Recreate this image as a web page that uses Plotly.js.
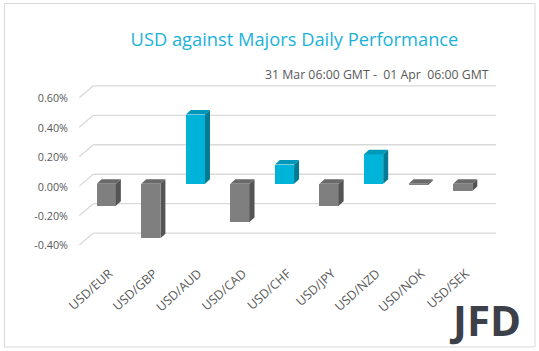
<!DOCTYPE html>
<html>
<head>
<meta charset="utf-8">
<script src="https://cdn.plot.ly/plotly-3.0.1.min.js"></script>
<style>html,body{margin:0;padding:0;background:#fff;}#chart{width:539px;height:351px;}</style>
</head>
<body>
<div id="chart"></div>
<script>
// ---- data ----
const categories = ['USD/EUR','USD/GBP','USD/AUD','USD/CAD','USD/CHF','USD/JPY','USD/NZD','USD/NOK','USD/SEK'];
const values = [-0.15, -0.37, 0.47, -0.26, 0.13, -0.15, 0.20, -0.01, -0.05];
const yTickVals = [-0.4, -0.2, 0, 0.2, 0.4, 0.6];
const yTickText = ['-0.40%', '-0.20%', '0.00%', '0.20%', '0.40%', '0.60%'];
const titleText = 'USD against Majors Daily Performance';
const subtitleText = '31 Mar 06:00 GMT -\u00a0\u00a001 Apr\u00a0\u00a006:00 GMT';

// ---- styling / geometry ----
const W = 539, H = 351;
const M = {l: 84, r: 54, t: 88, b: 101};
const PW = W - M.l - M.r, PH = H - M.t - M.b;
const yRange = [-0.45, 0.65];
const xRange = [-0.5, 8.5];
const barW = 0.43;
const depthPx = {x: 5, y: 4.5};
const colPos = {front: '#00b4d9', top: '#0097b8', side: '#007b93'};
const colNeg = {front: '#7f7f7f', top: '#6a6a6a', side: '#545454'};
const gridCol = '#d9d9d9';
const textCol = '#595959';
const FONT = 'Open Sans, sans-serif';

const pxPerX = PW / (xRange[1] - xRange[0]);
const pxPerY = PH / (yRange[1] - yRange[0]);
const dx = depthPx.x / pxPerX, dy = depthPx.y / pxPerY;

const xIdx = categories.map((c, i) => i);

// face polygons built from values
function faces(sign) {
  const top = {x: [], y: []}, side = {x: [], y: []};
  values.forEach((v, i) => {
    if ((v >= 0) !== (sign > 0)) return;
    const hi = Math.max(v, 0), lo = Math.min(v, 0);
    const L = i - barW / 2, R = i + barW / 2;
    top.x.push(L, L + dx, R + dx, R, L, null);
    top.y.push(hi, hi + dy, hi + dy, hi, hi, null);
    side.x.push(R, R + dx, R + dx, R, R, null);
    side.y.push(hi, hi + dy, lo + dy, lo, hi, null);
  });
  return {top, side};
}
const pos = faces(1), neg = faces(-1);
function faceTrace(f, color) {
  return {type: 'scatter', mode: 'lines', x: f.x, y: f.y, fill: 'toself',
    fillcolor: color, line: {width: 0, color: color}, hoverinfo: 'skip', showlegend: false};
}

const traces = [
  faceTrace(neg.side, colNeg.side), faceTrace(neg.top, colNeg.top),
  faceTrace(pos.side, colPos.side), faceTrace(pos.top, colPos.top),
  {type: 'bar', x: xIdx, y: values, width: barW,
   marker: {color: values.map(v => v >= 0 ? colPos.front : colNeg.front), line: {width: 0}},
   showlegend: false, hoverinfo: 'x+y'}
];

// back-wall gridlines and connecting diagonals (paper coords from tick values)
const toPaperX = px => (px - M.l) / PW;
const toPaperY = v => (v - yRange[0]) / (yRange[1] - yRange[0]);
const backShift = 9.5 / PH, frontShift = -2.4 / PH;
const shapes = [];
yTickVals.forEach(v => {
  const yb = toPaperY(v) + backShift;
  const yf = toPaperY(v) + frontShift;
  shapes.push({type: 'line', xref: 'paper', yref: 'paper', x0: toPaperX(93.3), x1: toPaperX(496), y0: yb, y1: yb,
    line: {color: gridCol, width: 1.3}, layer: 'below'});
  shapes.push({type: 'line', xref: 'paper', yref: 'paper', x0: toPaperX(79.3), x1: toPaperX(93.3), y0: yf, y1: yb,
    line: {color: gridCol, width: 1.3}, layer: 'below'});
});
// outer frame
shapes.push({type: 'rect', xref: 'paper', yref: 'paper',
  x0: toPaperX(4.5), x1: toPaperX(535), y0: (H - M.b - 347) / PH, y1: (H - M.b - 3.5) / PH,
  line: {color: gridCol, width: 1}, layer: 'below'});

const layout = {
  width: W, height: H,
  margin: M,
  paper_bgcolor: '#ffffff', plot_bgcolor: 'rgba(0,0,0,0)',
  font: {family: FONT, color: textCol, size: 10.5},
  title: {text: titleText, font: {family: FONT, size: 18.3, color: '#1ab2d8'},
    x: 294.5 / W, xanchor: 'center', y: 1 - 39.5 / H, yanchor: 'middle'},
  xaxis: {range: xRange, tickvals: xIdx, ticktext: categories, tickangle: -42,
    showgrid: false, zeroline: false, showline: false, ticks: '',
    ticklabelstandoff: 13, ticklabelshift: 3,
    tickfont: {family: FONT, size: 12.5, color: textCol}, fixedrange: true},
  yaxis: {range: yRange, tickvals: yTickVals, ticktext: yTickText,
    showgrid: false, zeroline: false, showline: false, ticks: '',
    ticklabelstandoff: 15, ticklabelshift: 3,
    tickfont: {family: FONT, size: 10.8, color: textCol}, fixedrange: true},
  shapes: shapes,
  annotations: [
    {text: subtitleText, xref: 'paper', yref: 'paper', x: toPaperX(491), y: (H - M.b - 74.5) / PH,
     xanchor: 'right', yanchor: 'middle', showarrow: false,
     font: {family: FONT, size: 12.3, color: textCol}},
    {text: '<b>JFD</b>', xref: 'paper', yref: 'paper', x: toPaperX(523), y: (H - M.b - 319) / PH,
     xanchor: 'right', yanchor: 'middle', showarrow: false,
     font: {family: FONT, size: 42, color: '#3b4049'}}
  ],
  bargap: 0
};

Plotly.newPlot('chart', traces, layout, {displayModeBar: false, staticPlot: true});
</script>
</body>
</html>
